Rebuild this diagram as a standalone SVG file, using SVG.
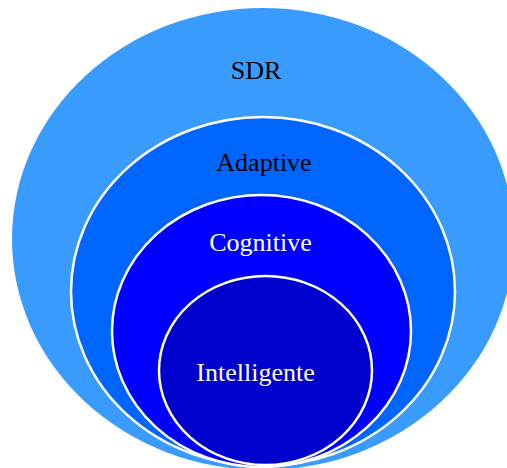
<svg xmlns="http://www.w3.org/2000/svg" width="507" height="468" viewBox="0 0 507 468">
<style>
.ring{stroke:#FFFFFF;stroke-width:2.5}
.lbl{font-family:"Liberation Serif","Times New Roman",serif;font-size:26px;text-anchor:middle}
</style>
<rect width="507" height="468" fill="#FFFFFF"/>
<g id="sdr">
<ellipse cx="263" cy="239" rx="251" ry="231" fill="#3A9BFF"/>
<text class="lbl" x="256" y="79" fill="#000000">SDR</text>
</g>
<g id="adaptive">
<ellipse class="ring" cx="263" cy="291.5" rx="192" ry="174.5" fill="#0066FF"/>
<text class="lbl" x="264" y="171" fill="#000000">Adaptive</text>
</g>
<g id="cognitive">
<ellipse class="ring" cx="261.5" cy="331" rx="149.5" ry="136" fill="#0000FF"/>
<text class="lbl" x="260.5" y="251" fill="#FFFFFF">Cognitive</text>
</g>
<g id="intelligente">
<ellipse class="ring" cx="265.5" cy="370.5" rx="106.5" ry="94.5" fill="#0000CC"/>
<text class="lbl" x="255.5" y="381" fill="#FFFFFF">Intelligente</text>
</g>
<g id="connectors"/>
</svg>
